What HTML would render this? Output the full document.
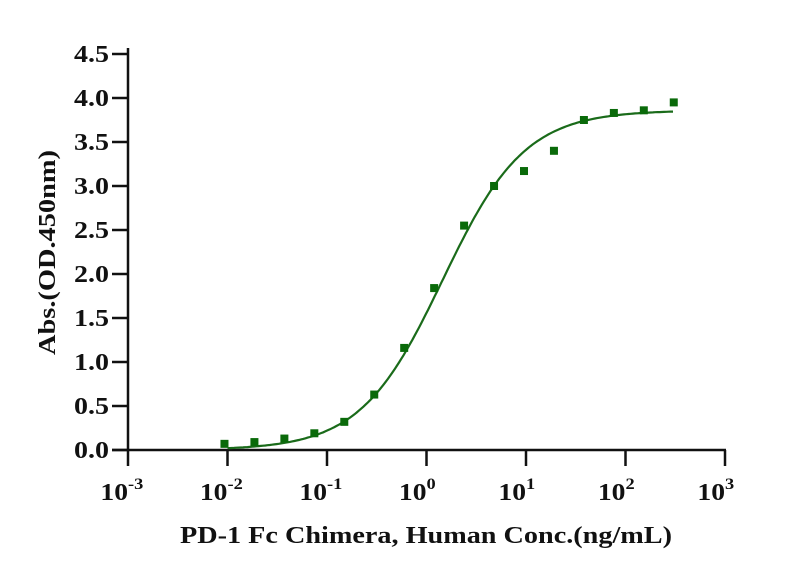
<!DOCTYPE html>
<html><head><style>body{margin:0;background:#fff}svg{display:block}text{font-family:"Liberation Serif",serif;font-weight:bold;fill:#111}</style></head>
<body>
<svg id="s" width="806" height="577" xmlns="http://www.w3.org/2000/svg">
<g stroke="#111" stroke-width="2.5" fill="none">
<line x1="128" y1="48" x2="128" y2="451"/>
<line x1="112" y1="450" x2="726" y2="450"/>
</g>
<g id="ticks" stroke="#111" stroke-width="2.5"></g>
<g id="lab" font-size="24"></g>
<path id="c" fill="none" stroke="#1a6b1a" stroke-width="2.2"/>
<g id="pts" fill="#0a6a0a"></g>
<text x="180" y="543" font-size="24" textLength="492" lengthAdjust="spacingAndGlyphs">PD-1 Fc Chimera, Human Conc.(ng/mL)</text>
<text transform="translate(55,355) rotate(-90)" font-size="24" textLength="205" lengthAdjust="spacingAndGlyphs">Abs.(OD.450nm)</text>
</svg>
<script>
var NS="http://www.w3.org/2000/svg";
function X(v){return 128+(Math.log10(v)+3)*99.5}
function Y(v){return 450-v*88}
var t=document.getElementById('ticks'),l=document.getElementById('lab');
function el(p,tag,a,txt){var e=document.createElementNS(NS,tag);for(var k in a)e.setAttribute(k,a[k]);if(txt!=null)e.textContent=txt;p.appendChild(e);return e}
for(var i=0;i<=9;i++){var y=Y(i*0.5);el(t,'line',{x1:112,x2:128,y1:y,y2:y});el(l,'text',{x:74,y:y+8,textLength:35,lengthAdjust:'spacingAndGlyphs'},(i*0.5).toFixed(1));}
for(var d=-3;d<=3;d++){var x=128+(d+3)*99.5;el(t,'line',{x1:x,x2:x,y1:450,y2:466});
var tx=el(l,'text',{x:x-24,y:500,transform:'translate('+(x)+',0) scale(1.15,1) translate('+(-x)+',0)'},'10');el(tx,'tspan',{dy:-11,'font-size':16},d<0?'-'+(-d):''+d);}
var p='';for(var i=0;i<=200;i++){var lx=-2+i/200*(Math.log10(300)+2),v=Math.pow(10,lx);var yv=3.86/(1+Math.pow(1.45/v,1.05));p+=(i?'L':'M')+X(v).toFixed(1)+','+Y(yv).toFixed(1);}
document.getElementById('c').setAttribute('d',p);
var ys=[0.07,0.09,0.13,0.19,0.32,0.63,1.16,1.84,2.55,3.0,3.17,3.4,3.75,3.83,3.86,3.95];
var g=document.getElementById('pts');
ys.forEach(function(v,k){var x=X(0.009766*Math.pow(2,k))-2;el(g,'rect',{x:x-4,y:Y(v)-4,width:8,height:8});});
</script>
</body></html>
